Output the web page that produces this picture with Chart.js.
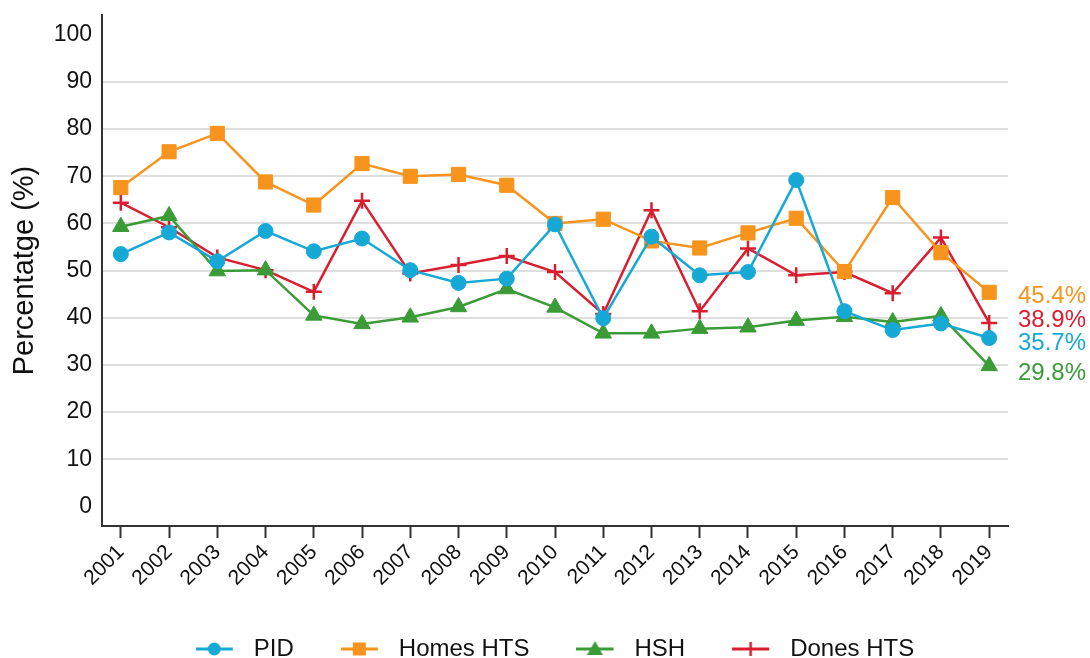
<!DOCTYPE html>
<html>
<head>
<meta charset="utf-8">
<script src="https://cdn.jsdelivr.net/npm/chart.js@4.4.1/dist/chart.umd.min.js"></script>
<style>
  html, body { margin: 0; padding: 0; background: #fff; }
  #wrap { width: 1090px; height: 658px; }
</style>
</head>
<body>
<div id="wrap"><canvas id="lineChart"></canvas></div>
<script>
const years = [2001, 2002, 2003, 2004, 2005, 2006, 2007, 2008, 2009, 2010,
               2011, 2012, 2013, 2014, 2015, 2016, 2017, 2018, 2019];
const pid      = [53.5, 58.1, 52.0, 58.4, 54.1, 56.8, 50.1, 47.4, 48.3, 59.8,
                  39.9, 57.2, 49.0, 49.7, 69.2, 41.4, 37.4, 38.8, 35.7];
const homesHts = [67.6, 75.2, 79.1, 68.8, 63.9, 72.7, 70.0, 70.4, 68.1, 60.0,
                  60.9, 56.3, 54.8, 58.0, 61.1, 49.8, 65.5, 53.8, 45.4];
const hsh      = [59.3, 61.6, 49.9, 50.1, 40.5, 38.7, 40.1, 42.3, 46.1, 42.2,
                  36.7, 36.7, 37.7, 38.0, 39.4, 40.2, 39.1, 40.4, 29.8];
const donesHts = [64.4, 59.2, 52.8, 50.1, 45.5, 64.8, 49.4, 51.2, 53.1, 49.7,
                  40.8, 62.8, 41.4, 54.7, 49.0, 49.7, 45.2, 57.0, 38.9];
const yTicks = [0, 10, 20, 30, 40, 50, 60, 70, 80, 90, 100];

const seriesNames  = ['PID', 'Homes HTS', 'HSH', 'Dones HTS'];
const seriesColors = ['#17a9d6', '#f7941d', '#3b9b37', '#d81e2f'];
const seriesStyles = ['circle', 'rect', 'triangle', 'cross'];
const seriesRadius = [7.5, 10, 9.5, 8];
const labelNudge   = [5, 4, 7, -3];   // px, keeps the end labels apart

const FONT = '"Liberation Sans", Arial, sans-serif';

function toPoints(values) {
    return values.map((v, i) => ({ x: years[i], y: v }));
}

// little line + marker picture for the legend
function legendSymbol(i) {
    const c = document.createElement('canvas');
    c.width = 46;
    c.height = 22;
    const g = c.getContext('2d');
    const col = seriesColors[i];
    g.strokeStyle = col;
    g.fillStyle = col;
    g.lineWidth = 3;
    g.beginPath();
    g.moveTo(0, 11);
    g.lineTo(37, 11);
    g.stroke();
    const cx = 18.5, cy = 11;
    g.beginPath();
    if (seriesStyles[i] === 'circle') {
        g.arc(cx, cy, 6.5, 0, Math.PI * 2);
        g.fill();
    } else if (seriesStyles[i] === 'rect') {
        g.fillRect(cx - 6.5, cy - 6.5, 13, 13);
    } else if (seriesStyles[i] === 'triangle') {
        g.moveTo(cx, cy - 8);
        g.lineTo(cx + 8, cy + 6);
        g.lineTo(cx - 8, cy + 6);
        g.closePath();
        g.fill();
    } else {
        g.lineWidth = 2.5;
        g.moveTo(cx, cy - 7);
        g.lineTo(cx, cy + 7);
        g.stroke();
    }
    return c;
}

const endLabels = {
    id: 'endLabels',
    afterDatasetsDraw(chart) {
        const ctx = chart.ctx;
        const yScale = chart.scales.y;
        const x = chart.chartArea.right + 10;
        ctx.save();
        ctx.font = '24px ' + FONT;
        ctx.textAlign = 'left';
        ctx.textBaseline = 'middle';
        chart.data.datasets.forEach((ds, i) => {
            const last = ds.data[ds.data.length - 1].y;
            ctx.fillStyle = seriesColors[i];
            ctx.fillText(last.toFixed(1) + '%', x, yScale.getPixelForValue(last) + labelNudge[i]);
        });
        ctx.restore();
    }
};

const allSeries = [pid, homesHts, hsh, donesHts];

const datasets = allSeries.map((values, i) => ({
    label: seriesNames[i],
    data: toPoints(values),
    borderColor: seriesColors[i],
    backgroundColor: seriesColors[i],
    borderWidth: 2.5,
    pointStyle: seriesStyles[i],
    pointRadius: seriesRadius[i],
    pointBorderWidth: seriesStyles[i] === 'cross' ? 2.5 : 1,
    pointBackgroundColor: seriesColors[i],
    pointBorderColor: seriesColors[i],
    tension: 0
}));

new Chart(document.getElementById('lineChart').getContext('2d'), {
    type: 'line',
    data: { datasets: datasets },
    options: {
        responsive: true,
        maintainAspectRatio: false,
        animation: false,
        layout: { padding: { top: 15, right: 82, left: 0, bottom: 0 } },
        scales: {
            x: {
                type: 'linear',
                min: 2000.61,
                max: 2019.39,
                bounds: 'data',
                afterBuildTicks: (scale) => { scale.ticks = years.map(v => ({ value: v })); },
                afterFit: (scale) => { scale.height = 64; },
                border: { color: '#333', width: 2 },
                grid: {
                    drawOnChartArea: false,
                    drawTicks: true,
                    tickLength: 12,
                    tickColor: '#333',
                    tickWidth: 2
                },
                ticks: {
                    autoSkip: false,
                    minRotation: 45,
                    maxRotation: 45,
                    padding: 2,
                    color: '#111',
                    font: { family: FONT, size: 21 },
                    callback: (v) => String(v)
                }
            },
            y: {
                type: 'linear',
                min: -4.15,
                max: 104.2,
                bounds: 'data',
                afterBuildTicks: (scale) => { scale.ticks = yTicks.map(v => ({ value: v })); },
                afterFit: (scale) => {
                    scale.width = 102;
                    scale.paddingTop = 0;
                    scale.paddingBottom = 0;
                },
                border: { color: '#333', width: 2 },
                grid: {
                    drawTicks: false,
                    lineWidth: 2,
                    color: (c) => (c.tick && (c.tick.value === 0 || c.tick.value === 100)) ? 'rgba(0,0,0,0)' : '#dedede'
                },
                ticks: {
                    padding: 10,
                    color: '#111',
                    font: { family: FONT, size: 23 }
                },
                title: {
                    display: true,
                    text: 'Percentatge (%)',
                    color: '#111',
                    padding: { top: 8, bottom: 0 },
                    font: { family: FONT, size: 29 }
                }
            }
        },
        plugins: {
            legend: {
                position: 'bottom',
                fullSize: false,
                maxHeight: 68,
                labels: {
                    usePointStyle: true,
                    pointStyleWidth: 46,
                    padding: 47,
                    color: '#111',
                    font: { family: FONT, size: 24 },
                    generateLabels: (chart) => chart.data.datasets.map((ds, i) => ({
                        text: ds.label,
                        pointStyle: legendSymbol(i),
                        fillStyle: seriesColors[i],
                        strokeStyle: seriesColors[i],
                        lineWidth: 0,
                        fontColor: '#111',
                        hidden: false,
                        datasetIndex: i
                    }))
                }
            },
            tooltip: { enabled: false }
        }
    },
    plugins: [endLabels]
});
</script>
</body>
</html>
